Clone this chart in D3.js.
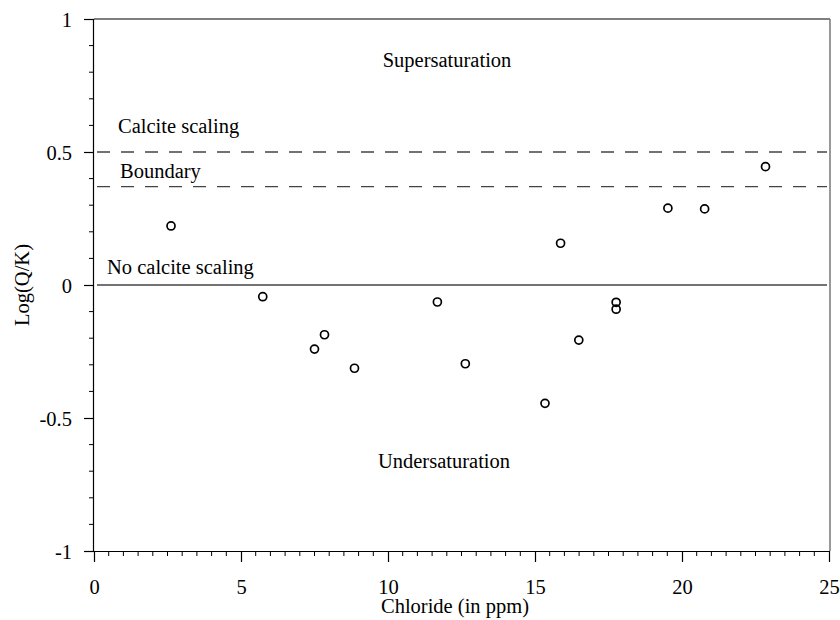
<!DOCTYPE html>
<html>
<head>
<meta charset="utf-8">
<script src="https://cdn.jsdelivr.net/npm/d3@7"></script>
<style>
  html, body { margin: 0; padding: 0; background: #fff; }
  svg { display: block; }
  text { font-family: "Liberation Serif", "Times New Roman", Times, serif; fill: #000; }
</style>
</head>
<body>
<svg id="chart" width="840" height="620"></svg>
<script>
// Chloride concentration (ppm) and calcite saturation index Log(Q/K)
const chloride = [2.62, 5.74, 7.50, 7.84, 8.86, 11.68, 12.63, 15.34, 15.87, 16.49, 17.76, 17.76, 19.52, 20.77, 22.84];
const logQK    = [0.222, -0.044, -0.241, -0.187, -0.313, -0.064, -0.296, -0.445, 0.157, -0.207, -0.065, -0.091, 0.289, 0.286, 0.445];

// Reference levels
const scalingLevel = 0.5;
const boundaryLevel = 0.37;
const neutralLevel = 0;

const xTicks = [0, 5, 10, 15, 20, 25];
const yTicks = [-1, -0.5, 0, 0.5, 1];
const yTickLabels = ["-1", "-0.5", "0", "0.5", "1"];

const serif = "'Liberation Serif', 'Times New Roman', Times, serif";
const fontSize = 20.5;
const svg = d3.select("#chart");
const plotLeft = 94, plotRight = 829, plotTop = 19, plotBottom = 551;

const x = d3.scaleLinear().domain([0, 25]).range([plotLeft, plotRight]);
const y = d3.scaleLinear().domain([-1, 1]).range([plotBottom, plotTop]);

// Frame (top and right edges)
svg.append("line").attr("x1", plotLeft).attr("x2", plotRight + 1).attr("y1", plotTop).attr("y2", plotTop)
  .attr("stroke", "#000").attr("stroke-width", 1.2);
svg.append("line").attr("x1", plotRight + 1).attr("x2", plotRight + 1).attr("y1", plotTop).attr("y2", plotBottom)
  .attr("stroke", "#777").attr("stroke-width", 1.5);

// Minor ticks
const xMinor = d3.range(0, 25.01, 0.5).filter(v => v % 5 !== 0);
const yMinor = d3.range(-10, 10.5, 1).map(v => v / 10).filter(v => Math.abs(v * 2 - Math.round(v * 2)) > 1e-6);

svg.append("g").selectAll("line").data(xMinor).join("line")
  .attr("x1", d => x(d)).attr("x2", d => x(d))
  .attr("y1", plotBottom).attr("y2", plotBottom + 5)
  .attr("stroke", "#000").attr("stroke-width", 1);
svg.append("g").selectAll("line").data(yMinor).join("line")
  .attr("x1", plotLeft - 5).attr("x2", plotLeft)
  .attr("y1", d => y(d)).attr("y2", d => y(d))
  .attr("stroke", "#000").attr("stroke-width", 1);

// X axis
const xAxis = d3.axisBottom(x).tickValues(xTicks).tickSize(11).tickPadding(17).tickFormat(d3.format("d"));
const gx = svg.append("g").attr("transform", `translate(0,${plotBottom})`).call(xAxis);
gx.attr("font-family", serif).attr("font-size", fontSize);
gx.select(".domain").attr("d", `M${plotLeft - 10},0.5H${plotRight}`).attr("stroke", "#000").attr("stroke-width", 1.2);
gx.selectAll(".tick line").attr("stroke", "#000").attr("stroke-width", 1.2);
gx.selectAll(".tick text").attr("fill", "#000");

// Y axis
const yAxis = d3.axisLeft(y).tickValues(yTicks).tickSize(10).tickPadding(12)
  .tickFormat((d, i) => yTickLabels[i]);
const gy = svg.append("g").attr("transform", `translate(${plotLeft},0)`).call(yAxis);
gy.attr("font-family", serif).attr("font-size", fontSize);
gy.select(".domain").attr("d", `M-0.5,${plotTop}V${plotBottom}`).attr("stroke", "#000").attr("stroke-width", 1.2);
gy.selectAll(".tick line").attr("stroke", "#000").attr("stroke-width", 1.2);
gy.selectAll(".tick text").attr("fill", "#000").attr("dy", "0.36em");

// Reference lines
svg.append("line").attr("x1", plotLeft + 3).attr("x2", plotRight - 2)
  .attr("y1", y(neutralLevel)).attr("y2", y(neutralLevel))
  .attr("stroke", "#444").attr("stroke-width", 1.4);
[scalingLevel, boundaryLevel].forEach(v => {
  svg.append("line").attr("x1", plotLeft + 3).attr("x2", plotRight - 2)
    .attr("y1", y(v)).attr("y2", y(v))
    .attr("stroke", "#444").attr("stroke-width", 1.4)
    .attr("stroke-dasharray", "13,11");
});

// Data points
const pts = chloride.map((c, i) => ({ c, v: logQK[i] }));
svg.append("g").selectAll("circle").data(pts).join("circle")
  .attr("cx", d => x(d.c)).attr("cy", d => y(d.v)).attr("r", 4)
  .attr("fill", "none").attr("stroke", "#000").attr("stroke-width", 1.7);

// Region annotations
const notes = [
  { t: "Supersaturation", x: 447, y: 67, a: "middle" },
  { t: "Calcite scaling", x: 118, y: 133, a: "start" },
  { t: "Boundary", x: 120, y: 178, a: "start" },
  { t: "No calcite scaling", x: 107, y: 274, a: "start" },
  { t: "Undersaturation", x: 444, y: 468, a: "middle" }
];
svg.append("g").selectAll("text").data(notes).join("text")
  .attr("x", d => d.x).attr("y", d => d.y).attr("text-anchor", d => d.a)
  .attr("font-family", serif).attr("font-size", fontSize).text(d => d.t);

// Axis titles
svg.append("text").attr("x", 455).attr("y", 613).attr("text-anchor", "middle")
  .attr("font-family", serif).attr("font-size", fontSize).text("Chloride (in ppm)");
svg.append("text").attr("transform", "translate(29,285) rotate(-90)")
  .attr("text-anchor", "middle").attr("font-family", serif).attr("font-size", fontSize).text("Log(Q/K)");
</script>
</body>
</html>
